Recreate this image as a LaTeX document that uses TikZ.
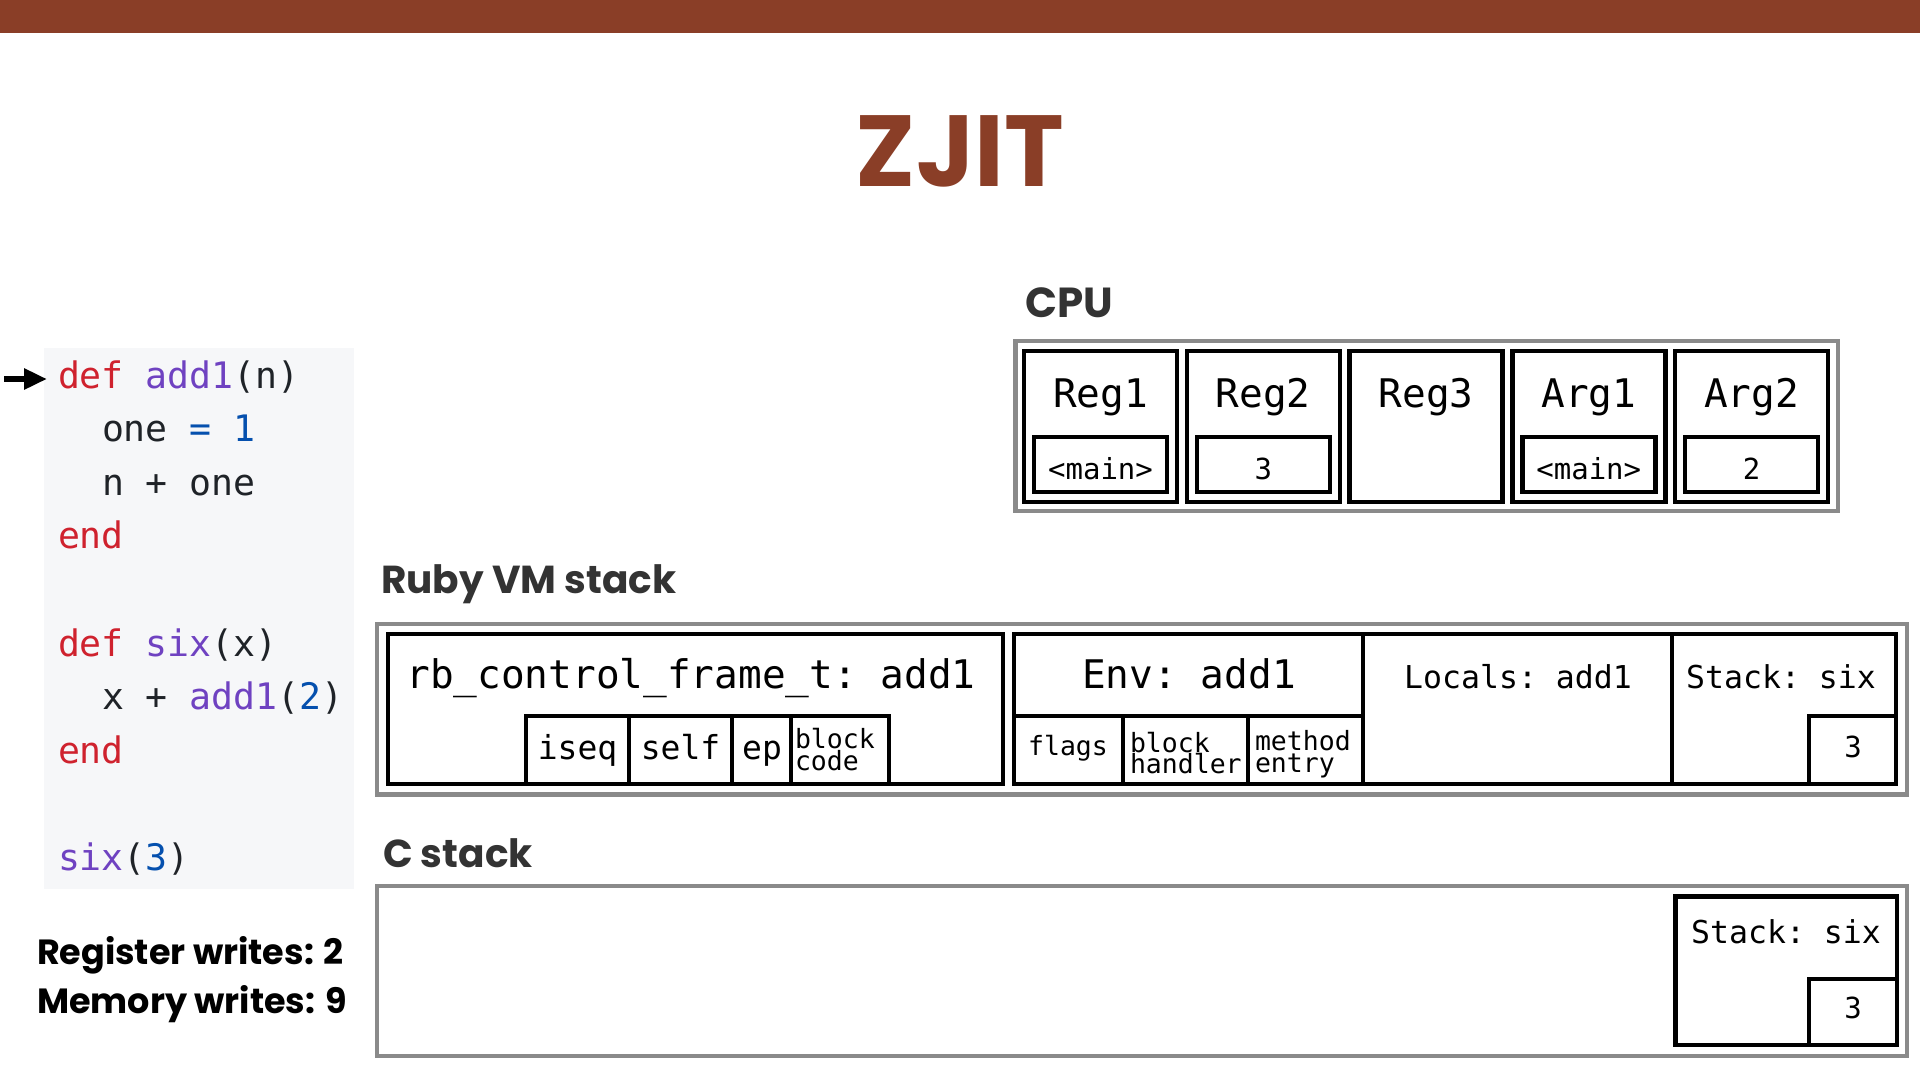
\documentclass[tikz,border=0pt]{standalone}
\usepackage{fontspec}
\setmainfont{Poppins}
\newfontfamily\monofont{DejaVu Sans Mono}
\usetikzlibrary{arrows.meta}
\definecolor{brand}{RGB}{138,62,39}
\definecolor{heading}{RGB}{51,51,51}
\definecolor{codebg}{RGB}{246,247,249}
\definecolor{kw}{RGB}{207,34,46}
\definecolor{fn}{RGB}{111,66,193}
\definecolor{num}{RGB}{5,80,174}
\definecolor{codefg}{RGB}{31,35,40}
\definecolor{framegray}{RGB}{138,138,138}
\newcommand\setfs[1]{\fontsize{#1}{#1}\selectfont}
\tikzset{
  grayline/.style={draw=framegray, line width=4.5pt},
  boxline/.style={draw=black, line width=4.5pt},
  txt/.style={inner sep=0pt, outer sep=0pt, anchor=base},
  txtl/.style={inner sep=0pt, outer sep=0pt, anchor=base west},
  headtxt/.style={txtl, text=heading, font={\bfseries\setfs{39}}},
  statstxt/.style={txtl, text=black, font={\bfseries\setfs{35}}},
  codetxt/.style={txtl, text=codefg, font={\monofont\frenchspacing\setfs{36.5}}},
  lblbig/.style={txt, font={\monofont\frenchspacing\setfs{39.4}}},
  lblmid/.style={txt, font={\monofont\frenchspacing\setfs{33}}},
  lblsm/.style={txt, font={\monofont\frenchspacing\setfs{31.5}}},
  lblval/.style={txt, font={\monofont\frenchspacing\setfs{29}}},
  lbltiny/.style={txtl, font={\monofont\frenchspacing\setfs{26.5}}},
  lbltinyc/.style={txt, font={\monofont\frenchspacing\setfs{26.5}}},
}
\begin{document}
\begin{tikzpicture}[x=1pt,y=-1pt]
\useasboundingbox (0,0) rectangle (1920,1080);
% top bar and title
\fill[brand] (0,0) rectangle (1920,33);
\node[txt, text=brand, font={\bfseries\setfs{101}}] (title) at (960,186) {ZJIT};

% code panel
\fill[codebg] (44,348) rectangle (354,889);
\node[codetxt] (c1) at (58,388) {\textcolor{kw}{def} \textcolor{fn}{add1}(n)};
\node[codetxt] (c2) at (102,441.6) {one \textcolor{num}{=} \textcolor{num}{1}};
\node[codetxt] (c3) at (102,495.2) {n + one};
\node[codetxt] (c4) at (58,548.8) {\textcolor{kw}{end}};
\node[codetxt] (c5) at (58,656) {\textcolor{kw}{def} \textcolor{fn}{six}(x)};
\node[codetxt] (c6) at (102,709.6) {x + \textcolor{fn}{add1}(\textcolor{num}{2})};
\node[codetxt] (c7) at (58,763.2) {\textcolor{kw}{end}};
\node[codetxt] (c8) at (58,870.4) {\textcolor{fn}{six}(\textcolor{num}{3})};
\coordinate (arrS) at (4,379);
\coordinate (arrE) at (47,379);
\draw[line width=6pt, -{Triangle[length=23pt,width=20pt]}] (arrS) -- (arrE);

% stats
\node[statstxt] (regw) at (37,964) {Register writes: 2};
\node[statstxt] (memw) at (37,1013) {Memory writes: 9};

% CPU
\node[headtxt, font={\bfseries\setfs{42}}] (cpuh) at (1025,317) {CPU};
\draw[grayline] (1015.5,341) rectangle (1838,511);
\foreach \i/\nm in {0/Reg1,1/Reg2,2/Reg3,3/Arg1,4/Arg2}{
  \pgfmathsetmacro\xa{1024+162.75*\i}
  \pgfmathsetmacro\xb{\xa+153}
  \draw[boxline] (\xa,351) rectangle (\xb,502);
  \node[lblbig] (reglbl\i) at ({(\xa+\xb)/2},407) {\nm};
}
\foreach \i/\v in {0/<main>,1/3,3/<main>,4/2}{
  \pgfmathsetmacro\xa{1024+162.75*\i}
  \pgfmathsetmacro\xb{\xa+153}
  \draw[boxline] (\xa+10,437) rectangle (\xb-10,492);
  \node[lblval] (regval\i) at ({(\xa+\xb)/2},479) {\v};
}

% Ruby VM stack
\node[headtxt] (rubyh) at (381,593) {Ruby VM stack};
\draw[grayline] (377,624) rectangle (1907,794.5);
\draw[boxline] (388,634) rectangle (1003,784);
\draw[boxline] (526,716) rectangle (889,784);
\draw[boxline] (629,716) -- (629,784);
\draw[boxline] (732,716) -- (732,784);
\draw[boxline] (791,716) -- (791,784);
\node[lblbig] (cfp) at (691,688) {rb\_control\_frame\_t: add1};
\node[lblmid] (iseq) at (577.5,759) {iseq};
\node[lblmid] (self) at (680.5,759) {self};
\node[lblmid] (ep) at (762,759) {ep};
\node[lbltiny] (bc1) at (795,748) {block};
\node[lbltiny] (bc2) at (795,770) {code};

\draw[boxline] (1014,634) rectangle (1896,784);
\draw[boxline] (1363,634) -- (1363,784);
\draw[boxline] (1672,634) -- (1672,784);
\draw[boxline] (1014,716) -- (1363,716);
\draw[boxline] (1123,716) -- (1123,784);
\draw[boxline] (1248,716) -- (1248,784);
\draw[boxline] (1809,716) rectangle (1896,784);
\node[lblbig] (env) at (1189,688) {Env: add1};
\node[lblsm] (locals) at (1518,688) {Locals: add1};
\node[lblsm] (vmstack) at (1781,688) {Stack: six};
\node[lblval] (vmthree) at (1853,757) {3};
\node[lbltinyc] (flags) at (1068,755) {flags};
\node[lbltiny] (bh1) at (1130,752) {block};
\node[lbltiny] (bh2) at (1130,773) {handler};
\node[lbltiny] (me1) at (1255,750) {method};
\node[lbltiny] (me2) at (1255,772) {entry};

% C stack
\node[headtxt] (ch) at (383,867) {C stack};
\draw[grayline] (377,886) rectangle (1907,1056);
\draw[boxline] (1675.5,896.5) rectangle (1897,1045);
\draw[boxline] (1809,979) rectangle (1897,1045);
\node[lblsm] (cstack) at (1786,943) {Stack: six};
\node[lblval] (cthree) at (1853,1018) {3};
\end{tikzpicture}
\end{document}
